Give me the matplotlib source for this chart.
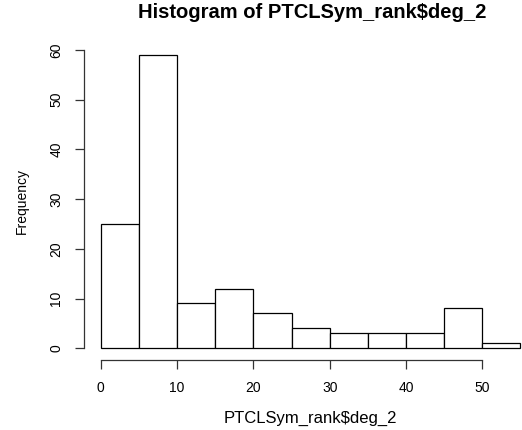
import matplotlib.pyplot as plt

plt.rcParams['font.family'] = ['Liberation Sans', 'DejaVu Sans']

# histogram bins (left edges) and counts
bin_edges = [0, 5, 10, 15, 20, 25, 30, 35, 40, 45, 50, 55]
counts = [25, 59, 9, 12, 7, 4, 3, 3, 3, 8, 1]
x_ticks = [0, 10, 20, 30, 40, 50]
y_ticks = [0, 10, 20, 30, 40, 50, 60]

W, H = 522, 430
fig = plt.figure(figsize=(W / 100, H / 100), dpi=100)

# plot region in pixels (R-style, extends past right edge)
left, right, top, bottom = 84, 522, 43, 360
ax = fig.add_axes([left / W, 1 - bottom / H, (right - left) / W, (bottom - top) / H])

widths = [b - a for a, b in zip(bin_edges[:-1], bin_edges[1:])]
ax.bar(bin_edges[:-1], counts, width=widths, align='edge',
       facecolor='white', edgecolor='black', linewidth=0.9)

ax.set_xlim(-2.2, -2.2 + (right - left) / 7.63)
ax.set_ylim(-2.36, 61.36)

ax.spines['top'].set_visible(False)
ax.spines['right'].set_visible(False)
ax.spines['left'].set_bounds(0, 60)
ax.spines['bottom'].set_bounds(0, 50)
for s in ('left', 'bottom'):
    ax.spines[s].set_linewidth(0.9)
    ax.spines[s].set_color('#333333')

ax.set_xticks(x_ticks)
ax.set_yticks(y_ticks)
ax.set_yticklabels([str(v) for v in y_ticks], rotation=90, va='center')
ax.tick_params(axis='both', length=6.5, width=0.9, color='#333333', labelsize=10, pad=8.5)

fig.text(312 / W, 1 - 13 / H, 'Histogram of PTCLSym_rank$deg_2',
         ha='center', va='center', fontsize=14.5, fontweight='bold')
fig.text(310 / W, 1 - 418 / H, 'PTCLSym_rank$deg_2', ha='center', va='center', fontsize=12)
fig.text(22 / W, 1 - 201 / H, 'Frequency', ha='center', va='center', rotation=90, fontsize=10)

fig.savefig('out.png', dpi=100)
